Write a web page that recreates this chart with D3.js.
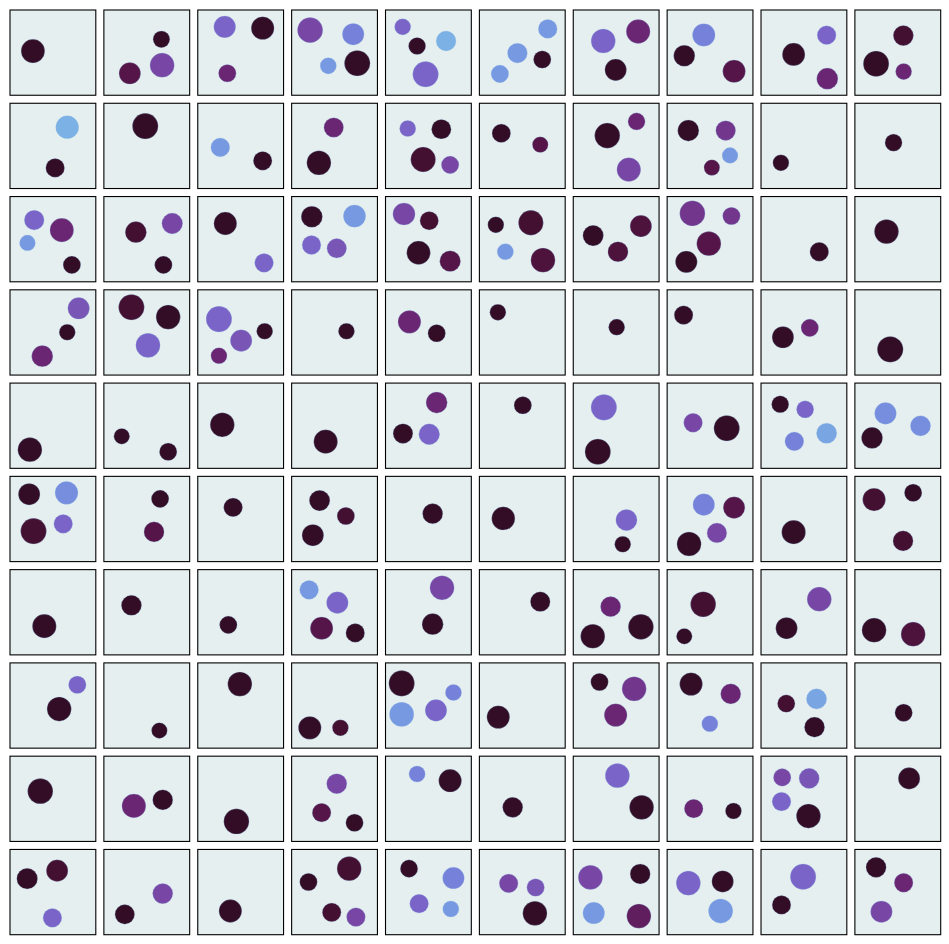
<!DOCTYPE html>
<html>
<head>
<meta charset="utf-8">
<script src="https://cdn.jsdelivr.net/npm/d3@7"></script>
<style>
  html, body { margin: 0; padding: 0; background: #fff; }
  svg { display: block; }
</style>
</head>
<body>
<svg id="chart" width="949" height="944"></svg>
<script>
// each circle: [x, y, radius, shade]; x/y/r in panel units (0-85), shade 0 (dark) .. 8 (light blue)
const row0 = [
  [[22.7,40.7,11.7,0]],
  [[57,29,8.3,0],[57.7,54.7,12,4],[25.7,62.7,10.7,2]],
  [[26.7,16.7,10.8,5],[64.3,18,11.3,0],[29.3,62.7,8.7,3]],
  [[18.3,20,12.5,4],[61,24,10.7,6],[36.3,55.3,8,7],[65,52.7,12.7,0]],
  [[17,16.7,8,5],[31.3,35.7,8.5,0],[60,30.7,9.8,8],[39.7,63.7,12.7,5]],
  [[67.7,18.7,9.3,7],[37.7,42.7,9.8,7],[62.3,49,8.7,0],[20.3,63.3,8.7,7]],
  [[29.7,30.7,12,5],[64.3,21.3,11.8,3],[42,59.3,10.7,0]],
  [[36.3,24.7,11.2,6],[17,45.3,10.5,0],[66.3,60.7,11.2,2]],
  [[65,25,9.3,5],[32.3,44,11.2,0],[65.7,68,10.5,3]],
  [[48,25.3,10,1],[21,53.3,12.7,0],[48.3,61,8,3]]
];
const row1 = [
  [[56.7,23.7,11.3,8],[44.7,64,9.3,0]],
  [[41,22.7,12.7,0]],
  [[22.3,43.7,9.3,7],[64.3,57,9.3,0]],
  [[41.7,24,9.7,3],[27,59,12,0]],
  [[22,25,8,5],[55.3,25.7,9.7,0],[37.3,55.7,12.3,1],[64,61,8.7,4]],
  [[21.7,29.7,9.2,0],[60.3,41,7.8,2]],
  [[33.7,32,12.5,0],[62.7,18,8.5,3],[55,65.7,11.8,4]],
  [[21,27,10.5,0],[58,27,9.8,3.5],[62.3,51.7,7.8,7],[44.3,63.7,7.8,2]],
  [[19.7,59,8,0]],
  [[38.3,39,8.5,0]]
];
const row2 = [
  [[24,23.3,9.8,5],[51.3,33.3,11.7,3],[17.3,46,7.8,7],[61.3,67.7,8.7,0]],
  [[31.7,35.3,10.5,1],[67.7,26.7,10.3,4],[59,67.7,8.7,0]],
  [[27.3,26.7,11.3,0],[65.7,65.7,9.3,5]],
  [[20,20,10.5,0],[62.3,19.3,11,7],[19.7,48,9.3,5],[44.7,51.3,9.7,4.5]],
  [[18.3,17.3,11,4],[43.3,24,9.2,1],[32.7,55.7,11.7,0],[64,64,10.3,2]],
  [[16.3,28,8,0],[51,26,12.3,1],[25.7,54.7,8,7],[63,63,12,1.5]],
  [[19.7,38.7,10.2,0],[67,29.3,10.7,1.5],[44.3,54.7,10,1.5]],
  [[25,16.7,12.5,3.5],[63.7,19.3,8.7,3.5],[41.3,46.7,12,2],[19,64.7,10.8,0]],
  [[57.7,54.7,9.3,0]],
  [[31.3,34.7,12,0]]
];
const row3 = [
  [[68,18.3,10.7,4.5],[56.7,42,8,0],[32,65.7,10.5,3]],
  [[27.3,17.3,12.7,1],[63.7,27,12,0],[43.7,55,12,5]],
  [[21,29,12.7,5],[43,50.3,10.7,4.5],[66.3,41,8,0],[21,65.3,8,3]],
  [[54.3,41,8,0]],
  [[23.7,31.7,11.3,3],[50.7,43,8.7,0]],
  [[18.3,22.3,8,0]],
  [[43,37,8,0]],
  [[16.3,25,9.3,0]],
  [[21.7,47,10.7,0],[48.3,37.7,8.7,3]],
  [[35,59,12.8,0]]
];
const row4 = [
  [[19.7,66,12,0]],
  [[17.7,52.7,7.8,0],[63.7,68,8.7,0]],
  [[24.3,41.3,12,0]],
  [[33.7,58,11.8,0]],
  [[50.7,19.3,10.5,3],[17.3,50,9.8,0],[43.3,50.7,10.3,5]],
  [[43,22,8.7,0]],
  [[30.3,24,12.7,5],[24.3,68,12.7,0]],
  [[25.7,39.3,9.3,4],[59,44.7,12.7,0]],
  [[19,21,8.5,0],[43.7,26,8.5,5],[33,57.7,9.3,6],[65,49.7,10,7.5]],
  [[30.3,30,10.7,6.5],[65,42.3,10,6.5],[17,54.3,10.5,0]]
];
const row5 = [
  [[19,17.7,10.7,0],[56,16.3,11.3,6.5],[23.3,54.3,12.7,1],[52.7,47,9.3,5]],
  [[55.7,22.3,8.7,0],[49.7,55,10,2]],
  [[35,30.7,9.3,0]],
  [[27.7,24,10.2,0],[53.7,39.3,8.7,1],[21,58.3,10.7,0]],
  [[46.7,37,10,0]],
  [[23.7,41.7,11.5,0]],
  [[52.7,43.3,10.5,5],[49,67.3,8,0]],
  [[36.3,28,10.7,6],[66.3,31,10.7,2],[49.3,56,9.8,4],[21.7,67,12,0]],
  [[32.3,55.3,11.8,0]],
  [[19,23,11.3,1],[57.7,16.3,8.7,0],[47.7,64,10,1]]
];
const row6 = [
  [[34,56,11.8,0]],
  [[27.3,35.3,10,0]],
  [[30.3,54.7,8.7,0]],
  [[17.3,20,9.3,7],[45.3,32.7,10.7,5],[29.7,58,11.2,2],[63,62.7,9.3,0]],
  [[56,18,12,4],[46.7,54,10.5,0]],
  [[60.3,31.7,9.8,0]],
  [[37,36.7,10,3],[19.3,66,12,0],[67,56.7,12.5,0]],
  [[35.7,34.3,12.5,1],[17,66,7.8,0]],
  [[57.7,29.3,12,4],[25.3,58,10.7,0]],
  [[19,60,12,0],[57.7,64,12,1.5]]
];
const row7 = [
  [[66.7,21.7,8.7,5],[48.7,45.7,12,0]],
  [[55,67,7.8,0]],
  [[41.7,21,12,0]],
  [[18,64.3,11.3,0],[48.3,64.3,8,1]],
  [[16,20.3,12.7,0],[67.3,29.3,8,6],[16,51,12,7],[50,47,10.7,5]],
  [[18.7,53.7,11.3,0]],
  [[26,19,8.7,0],[60.3,25.7,12,3.5],[42,51.7,11.3,3]],
  [[23.7,21,11.3,0],[63,30.7,10,3],[42.3,60.3,8,6]],
  [[25,40.3,8.7,1],[55,35.7,10,7.5],[53,63.7,10,0]],
  [[48.3,49.3,8.7,0]]
];
const row8 = [
  [[30,34.7,12.5,0]],
  [[29.7,49.3,11.8,3],[58.3,43.3,10,0]],
  [[38.3,64.7,12.5,0]],
  [[44.7,27.3,10,4],[29.7,56,9.3,2],[62.3,66,8.7,0]],
  [[31.3,17.7,8,6],[64,24.3,11.3,0]],
  [[33,50.7,10,0]],
  [[43.7,19.3,12,5],[67.7,50.7,12,0]],
  [[26.3,52,9.3,3],[65.7,54.3,8,0]],
  [[21,21,8.7,4],[47.7,22,10,4.5],[20.3,45,9.3,5],[47,59.3,12,0]],
  [[53.7,22,10.7,0]]
];
const row9 = [
  [[17,29,10.3,0],[46.7,21,10.7,1],[42,67.7,9.3,5]],
  [[58.3,43.7,10,4],[20.7,64.3,9.7,0]],
  [[32.3,61,11.3,0]],
  [[57,19,12,1],[16.7,32.3,8.7,0],[39.7,62.3,9.3,1],[63.7,67,9.3,4]],
  [[23.3,19,8.7,0],[67.3,28.3,10.7,6],[33.3,53.7,9.3,5],[64.7,59,8,7]],
  [[29,33.7,9.3,4],[55.7,37.7,8.7,4.5],[55,63.3,12,0]],
  [[17,27.7,12,4],[66.3,24.3,10,0],[20.3,63,10.7,7],[65,66,12,2.5]],
  [[21,33.3,12,5],[55,31.7,10.7,0],[53,61,12,7]],
  [[41.7,27,12.7,5],[20.3,55,9.3,0]],
  [[21,17.7,10,0],[48.3,33,9.3,3],[26.3,61.7,10.7,4]]
];

const shadeColors = ["#330d25", "#441031", "#551548", "#6b2673", "#7846a4",
                     "#7a64c8", "#7682da", "#7799e2", "#7bb1e4"];

const rows = [row0, row1, row2, row3, row4, row5, row6, row7, row8, row9];

const svg = d3.select("#chart");

const col = d3.scaleBand().domain(d3.range(10)).range([10, 940.7]).paddingInner(0.086);
const row = d3.scaleBand().domain(d3.range(10)).range([10, 934.7]).paddingInner(0.086);

const pos = d3.scaleLinear().domain([0, 85]).range([0, col.bandwidth()]);
const color = d3.scaleLinear()
  .domain(d3.range(shadeColors.length))
  .range(shadeColors)
  .interpolate(d3.interpolateRgb);

rows.forEach((panels, ri) => {
  panels.forEach((circles, ci) => {
    const g = svg.append("g")
      .attr("transform", `translate(${col(ci)},${row(ri)})`);

    g.append("rect")
      .attr("width", col.bandwidth())
      .attr("height", row.bandwidth())
      .attr("fill", "#e5eff0");

    g.selectAll("circle")
      .data(circles)
      .enter()
      .append("circle")
      .attr("cx", d => pos(d[0]))
      .attr("cy", d => pos(d[1]))
      .attr("r", d => pos(d[2]))
      .attr("fill", d => color(d[3]))
      .attr("stroke", "#8cb6e2")
      .attr("stroke-opacity", 0.45)
      .attr("stroke-width", 0.6);

    g.append("rect")
      .attr("width", col.bandwidth())
      .attr("height", row.bandwidth())
      .attr("fill", "none")
      .attr("stroke", "#000")
      .attr("stroke-width", 1.1);
  });
});
</script>
</body>
</html>
